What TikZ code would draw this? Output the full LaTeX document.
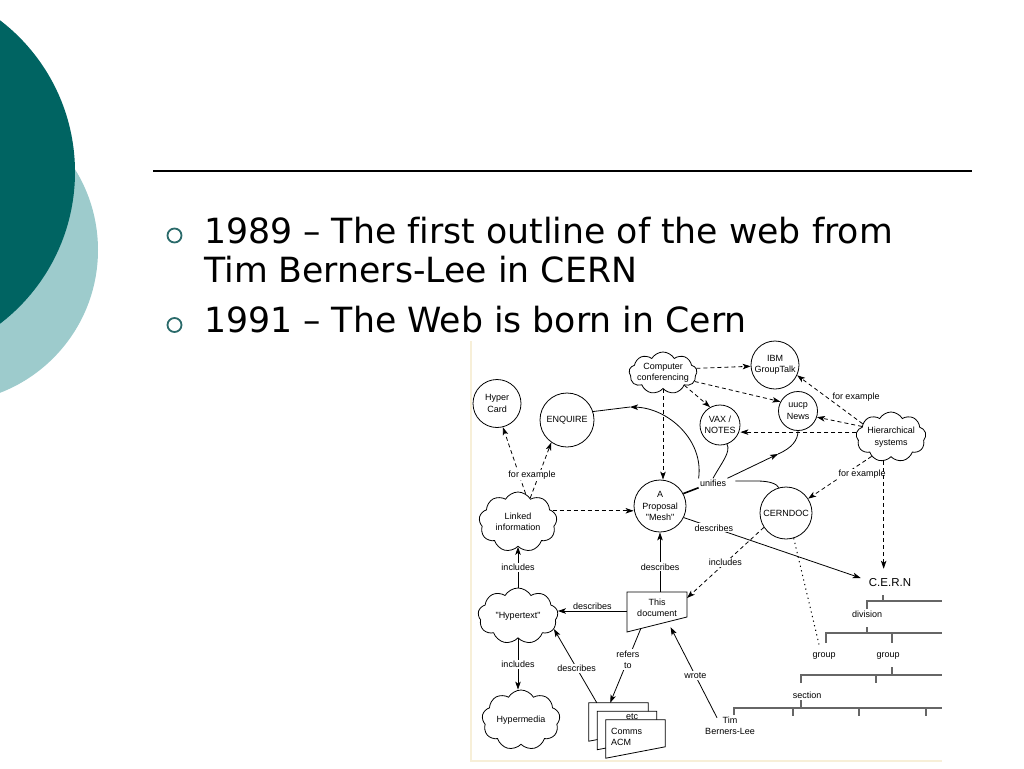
\documentclass[tikz,border=0pt]{standalone}
\usepackage{fontspec}
\setmainfont[Ligatures=NoCommon]{DejaVu Sans}
\newfontfamily\dfont{Liberation Sans}
\usetikzlibrary{shapes.symbols,arrows.meta,calc}
\definecolor{tealdark}{HTML}{006462}
\definecolor{teallight}{HTML}{9DCBCC}
\definecolor{bulletc}{HTML}{2A6A6A}
\definecolor{cream}{HTML}{F7EFD8}
\tikzset{
  dtxt/.style={font=\dfont\fontsize{9}{11.5}\selectfont, align=center, inner sep=1pt},
  circ/.style={dtxt, draw, circle, line width=0.8pt, inner sep=0pt},
  cld/.style={draw, cloud, cloud puffs=9, cloud puff arc=120, cloud ignores aspect, line width=0.8pt, inner sep=0pt},
  lab/.style={dtxt, fill=white, inner sep=1.2pt},
  con/.style={line width=0.8pt},
  arr/.style={con, -{Stealth[length=8pt,width=5.5pt,inset=2pt]}},
  dsh/.style={dash pattern=on 4pt off 3pt},
  dotl/.style={line width=1pt, dash pattern=on 1.2pt off 3.5pt},
  tree/.style={line width=1.2pt, draw=black!60},
  page/.style={draw=none, minimum width=59pt, minimum height=38pt, inner sep=0pt},
  slide/.style={anchor=base west, inner sep=0pt, font=\fontsize{34.7}{40}\selectfont}
}
\begin{document}
\begin{tikzpicture}[x=1pt,y=-1pt]
\useasboundingbox (0,0) rectangle (1024,768);
% background decoration
\fill[teallight] (-55,250) circle (153pt);
\fill[tealdark] (-116,172) circle (191pt);
\draw[line width=1.3pt] (153,171) -- (972,171);
\draw[bulletc, line width=1.8pt] (174.5,235.5) circle (7pt);
\draw[bulletc, line width=1.8pt] (174.5,325) circle (7pt);
\node[slide] (l1) at (204,243) {1989 -- The first outline of the web from};
\node[slide] (l2) at (204,282) {Tim Berners-Lee in CERN};
\node[slide] (l3) at (204,332) {1991 -- The Web is born in Cern};
% picture frame
\draw[cream, line width=2.5pt] (471,341) -- (471,761) -- (942,761);
% nodes
\node[circ, minimum size=48pt] (hc) at (497,403.5) {Hyper\\Card};
\node[circ, minimum size=54pt] (enq) at (567,420) {ENQUIRE};
\node[cld, minimum width=78pt, minimum height=60pt, label={[dtxt]center:Linked\\information}] (lnk) at (518,522) {};
\node[cld, minimum width=80pt, minimum height=56pt, label={[dtxt]center:"Hypertext"}] (hyp) at (518,616) {};
\node[cld, minimum width=78pt, minimum height=60pt, label={[dtxt]center:Hypermedia}] (hm) at (521,720) {};
\node[cld, minimum width=68pt, minimum height=42pt, label={[dtxt]center:Computer\\conferencing}] (cc) at (663,373) {};
\node[circ, minimum size=48pt] (ibm) at (775,365) {IBM\\GroupTalk};
\node[circ, minimum size=39pt] (uucp) at (798,411) {uucp\\News};
\node[circ, minimum size=40pt] (vax) at (720,425) {VAX /\\NOTES};
\node[cld, minimum width=70pt, minimum height=50pt, label={[dtxt]center:Hierarchical\\systems}] (hs) at (891,437) {};
\node[circ, minimum size=52pt] (mesh) at (660,506) {A\\Proposal\\"Mesh"};
\node[circ, minimum size=52pt] (cdoc) at (786,513) {CERNDOC};
\node[dtxt] (doc) at (657,608) {This\\document};
\coordinate (dTL) at ($(doc.center)+(-30,-16)$);
\coordinate (dTR) at ($(doc.center)+(30,-16)$);
\coordinate (dBR) at ($(doc.center)+(30,9)$);
\coordinate (dBL) at ($(doc.center)+(-30,24)$);
\draw[con] (dTL) -- (dTR) -- (dBR) -- (dBL) -- cycle;
\node[dtxt, font=\dfont\fontsize{11.5}{13}\selectfont, inner sep=2pt] (cern) at (890,583) {C.E.R.N};
\node[dtxt] (div) at (867,614) {division};
\node[dtxt] (grp1) at (824,656) {group};
\node[dtxt] (grp2) at (888,656) {group};
\node[dtxt] (sec) at (807,695) {section};
\node[dtxt] (tbl) at (730,726) {Tim\\Berners-Lee};
\node[lab] (uni) at (713,483) {unifies};
% stack of pages
\node[page] (pg1) at (618.5,722) {};
\node[page] (pg2) at (627,730.5) {};
\node[page] (pg3) at (635.5,739) {};
\foreach \p in {pg1,pg2,pg3}{
  \draw[con, fill=white] (\p.north west) -- (\p.north east) -- ($(\p.north east)+(0,27)$) -- (\p.south west) -- cycle;
}
\node[dtxt, anchor=base] (etc) at (632,719.5) {etc};
\node[dtxt, anchor=west, align=left] (acm) at (610,737) {Comms\\ACM};
% tree
\draw[tree] (883,595) -- (883,601);
\draw[tree] (867,609) -- (867,601) -- (942,601);
\draw[tree] (867,627) -- (867,633);
\draw[tree] (826,643) -- (826,633) -- (942,633);
\draw[tree] (892,633) -- (892,643);
\draw[tree] (892,667) -- (892,675);
\draw[tree] (801,683) -- (801,675) -- (942,675);
\draw[tree] (876,675) -- (876,683);
\draw[tree] (801,700) -- (801,708);
\draw[tree] (734,715) -- (734,708) -- (942,708);
\draw[tree] (793,708) -- (793,716);
\draw[tree] (859,708) -- (859,716);
\draw[tree] (926,708) -- (926,716);
% connectors
\draw[arr,dsh] (lnk.75) -- (hc.-76);
\draw[arr,dsh] (lnk.63) -- (enq.-125);
\node[lab] (fe1) at (532,475) {for example};
\draw[arr,dsh] (lnk.18) -- (lnk.18 -| mesh.west);
\draw[arr] (hyp.north) -- node[lab]{includes} (hyp.north |- lnk.south);
\draw[arr] (hyp.south) -- node[lab]{includes} (hyp.south |- hm.north);
\coordinate (dW) at ($(dTL)!0.475!(dBL)$);
\draw[arr] (dW) -- node[dtxt, above=0pt]{describes} (dW -| hyp.east);
\draw[arr] ($(pg1.north west)+(8,0)$) -- node[lab, pos=0.47]{describes} (hyp.-20);
\draw[arr] ($(dBL)!0.23!(dBR)$) -- node[lab, pos=0.42]{refers\\to} ($(pg1.north west)!0.36!(pg1.north east)$);
\draw[arr, shorten >=6pt] ($(tbl.north)+(-13,2)$) -- node[lab, pos=0.44]{wrote} ($(dBL)!0.68!(dBR)$);
\draw[arr] (dTL -| mesh.south) -- node[lab, pos=0.42]{describes} (mesh.south);
\draw[arr,dsh] (cdoc.-147) -- node[lab, pos=0.5]{includes} ($(dTR)+(0,6)$);
\draw[arr] (mesh.-26) -- node[lab, pos=0.17]{describes} ($(cern.west)+(-6,-5)$);
\draw[arr,dsh] (cc.8) -- (ibm.183);
\draw[arr,dsh] (cc.-15) -- (uucp.152);
\draw[arr,dsh] (cc.-30) -- (vax.119);
\draw[arr,dsh] (cc.south) -- (cc.south |- mesh.north);
\draw[arr,dsh] (hs.155) -- (ibm.-25);
\node[dtxt] (fe2) at (856,397) {for example};
\draw[arr,dsh] (hs.160) -- (uucp.-18);
\draw[arr,dsh] (hs.172) -- (hs.172 -| vax.east);
\draw[arr,dsh] (hs.-135) -- (cdoc.33);
\node[lab] (fe3) at (862,474) {for example};
\draw[arr,dsh, shorten >=8pt] (hs.-107) -- (hs.-107 |- cern.north);
\draw[dotl] (cdoc.-73) -- ($(grp1.north)+(-5,-7)$);
% unifies
\coordinate (m1) at (630,407);
\draw[arr] (uni.north west) .. controls (704,440) and (668,408) .. (m1);
\draw[con] (m1) -- (enq.18);
\draw[con] (uni.north) .. controls (722,462) and (731,452) .. (vax.-70);
\coordinate (m3) at (778,454);
\draw[arr] (uni.north east) -- (m3);
\draw[con] (m3) .. controls (792,448) and (798,440) .. (uucp.south);
\draw[con] ($(uni.east)+(8,-2)$) -- (757,481) .. controls (770,481) and (777,484) .. (cdoc.106);
\draw[line width=1.6pt] (uni.south west) -- (mesh.28);
\end{tikzpicture}
\end{document}
